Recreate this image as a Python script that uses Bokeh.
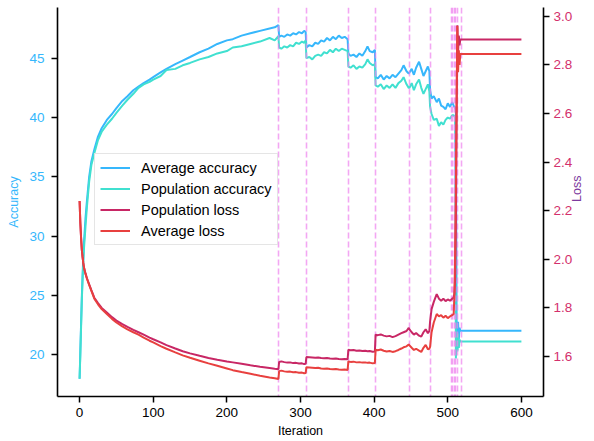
import math
from bokeh.plotting import figure
from bokeh.models import Range1d, LinearAxis, FixedTicker, Legend, LegendItem, PrintfTickFormatter
from bokeh.embed import file_html
from bokeh.resources import INLINE

# ---------------- data ----------------
iters = [0, 1, 2, 3, 4, 5, 6, 8, 10, 13, 16, 20, 25, 30, 37, 44, 50, 58, 65, 73,
         80, 87, 95, 100, 110, 118, 130, 140, 150, 163, 175, 187, 200, 208, 220, 232, 245, 258, 265, 270,
         271, 274, 278, 282, 286, 290, 294, 298, 302, 305, 307,
         308, 312, 316, 320, 324, 328, 332, 336, 340, 344, 348, 352, 356, 360, 364,
         365, 368, 372, 376, 380, 384, 388, 391, 394, 398, 401,
         402, 405, 409, 413, 417, 421, 425, 429, 433, 437, 440, 444, 447,
         448, 451, 454, 457, 461, 464, 467, 470, 473, 475,
         476, 478, 481, 485, 488, 491, 494, 497, 500, 503, 506, 508,
         509, 510, 511, 512, 513, 514, 515, 516, 517, 600]

avg_acc = [18.0, 20.3, 22.6, 24.8, 26.6, 28.2, 29.5, 31.5, 33.0, 35.0, 36.3, 37.3, 38.4, 39.1, 39.8, 40.3, 40.8, 41.4, 41.8, 42.3,
           42.6, 42.9, 43.2, 43.4, 43.8, 44.1, 44.5, 44.8, 45.1, 45.5, 45.8, 46.2, 46.5, 46.6, 46.9, 47.1, 47.3, 47.5, 47.6, 47.78,
           46.8, 46.9, 46.8, 47.0, 46.9, 47.1, 47.0, 47.2, 47.1, 47.3, 47.2,
           45.9, 46.1, 46.0, 46.3, 46.2, 46.5, 46.4, 46.7, 46.5, 46.8, 46.6, 46.9, 46.7, 46.8, 46.6,
           45.4, 45.2, 45.3, 45.1, 45.4, 45.2, 45.6, 46.0, 45.6, 45.5, 45.7,
           43.4, 43.3, 43.6, 43.2, 43.5, 43.3, 43.6, 43.4, 43.7, 44.0, 44.4, 43.9, 43.7,
           43.8, 44.1, 43.6, 44.2, 44.7, 44.1, 43.5, 43.9, 44.3, 43.9,
           42.3, 41.6, 41.8, 41.3, 41.6, 41.0, 40.9, 40.7, 41.2, 40.9, 41.3, 41.0,
           40.9, 40.8, 40.6, 22.9, 20.4, 22.8, 21.3, 22.3, 22.04, 22.04]

pop_acc = [18.0, 20.0, 22.3, 24.5, 26.3, 27.8, 29.0, 30.8, 32.5, 34.6, 36.0, 37.0, 38.1, 38.8, 39.4, 39.9, 40.4, 41.0, 41.5, 42.0,
           42.5, 42.8, 43.0, 43.2, 43.5, 44.0, 44.1, 44.4, 44.6, 44.9, 45.1, 45.4, 45.6, 45.9, 46.0, 46.2, 46.4, 46.7, 46.5, 46.85,
           45.9, 45.8, 46.0, 45.9, 46.1, 46.0, 46.3, 46.2, 46.4, 46.3, 46.5,
           45.0, 45.1, 44.9, 45.2, 45.3, 45.2, 45.5, 45.4, 45.7, 45.5, 45.8, 45.6, 45.8, 45.7, 45.6,
           44.3, 44.2, 44.4, 44.1, 44.3, 44.2, 44.5, 44.9, 44.6, 44.4, 44.5,
           42.7, 42.6, 42.8, 42.4, 42.7, 42.5, 42.8, 42.5, 42.9, 43.1, 43.4, 42.8, 42.5,
           42.5, 42.9, 42.3, 42.8, 43.2, 42.5, 42.0, 42.4, 42.8, 42.2,
           40.9, 40.3, 39.8, 39.9, 39.3, 39.6, 39.4, 39.8, 40.0, 39.9, 40.2, 40.2,
           40.1, 40.0, 19.7, 21.6, 20.3, 21.8, 20.6, 21.3, 21.14, 21.14]

pop_loss = [2.24, 2.15, 2.09, 2.04, 2.01, 1.985, 1.966, 1.942, 1.922, 1.897, 1.873, 1.842, 1.82, 1.80, 1.781, 1.762, 1.748, 1.733, 1.722, 1.71,
            1.70, 1.69, 1.678, 1.671, 1.658, 1.647, 1.633, 1.622, 1.613, 1.603, 1.594, 1.587, 1.580, 1.576, 1.570, 1.564, 1.558, 1.553, 1.550, 1.548,
            1.578, 1.580, 1.577, 1.575, 1.576, 1.573, 1.574, 1.571, 1.572, 1.569, 1.570,
            1.598, 1.597, 1.596, 1.595, 1.596, 1.594, 1.593, 1.594, 1.592, 1.591, 1.592, 1.590, 1.589, 1.590, 1.589,
            1.628, 1.626, 1.627, 1.624, 1.625, 1.623, 1.624, 1.622, 1.623, 1.620, 1.621,
            1.690, 1.688, 1.691, 1.686, 1.683, 1.685, 1.680, 1.684, 1.690, 1.696, 1.700, 1.705, 1.718,
            1.712, 1.700, 1.690, 1.697, 1.686, 1.682, 1.700, 1.712, 1.696, 1.705,
            1.745, 1.795, 1.825, 1.857, 1.838, 1.830, 1.838, 1.828, 1.835, 1.830, 1.838, 1.842,
            1.86, 1.92, 2.15, 2.60, 2.963, 2.85, 2.92, 2.88, 2.904, 2.904]

avg_loss = [2.24, 2.15, 2.09, 2.04, 2.01, 1.985, 1.965, 1.94, 1.92, 1.895, 1.87, 1.838, 1.815, 1.795, 1.775, 1.755, 1.74, 1.724, 1.712, 1.70,
            1.69, 1.678, 1.665, 1.658, 1.643, 1.632, 1.617, 1.605, 1.595, 1.583, 1.572, 1.562, 1.551, 1.544, 1.536, 1.529, 1.521, 1.514, 1.511, 1.508,
            1.540, 1.542, 1.539, 1.537, 1.538, 1.535, 1.536, 1.533, 1.534, 1.531, 1.532,
            1.556, 1.555, 1.554, 1.553, 1.554, 1.551, 1.550, 1.551, 1.549, 1.548, 1.549, 1.547, 1.546, 1.547, 1.545,
            1.580, 1.578, 1.579, 1.576, 1.577, 1.575, 1.576, 1.574, 1.575, 1.572, 1.573,
            1.628, 1.626, 1.629, 1.624, 1.621, 1.623, 1.619, 1.622, 1.627, 1.633, 1.638, 1.642, 1.650,
            1.646, 1.636, 1.627, 1.632, 1.624, 1.619, 1.636, 1.648, 1.630, 1.632,
            1.640, 1.700, 1.740, 1.775, 1.765, 1.770, 1.760, 1.768, 1.758, 1.765, 1.770, 1.775,
            1.85, 2.02, 2.30, 2.65, 2.96, 2.77, 2.86, 2.80, 2.845, 2.845]

switch_iters = [270, 308, 365, 402, 448, 476, 505, 507, 509, 511, 513, 518]

x_ticks = [0, 100, 200, 300, 400, 500, 600]
acc_ticks = [20, 25, 30, 35, 40, 45]
loss_ticks = [1.6, 1.8, 2.0, 2.2, 2.4, 2.6, 2.8, 3.0]

# ---------------- styling ----------------
C_AVG_ACC = "#36b7fc"
C_POP_ACC = "#40e0d0"
C_POP_LOSS = "#c82765"
C_AVG_LOSS = "#e8403f"
FONT = "Liberation Sans"

p = figure(width=594, height=441, output_backend="svg", toolbar_location=None,
           x_range=Range1d(-30, 630), y_range=Range1d(16.5, 49.27),
           min_border_left=57, min_border_right=49, min_border_top=7, min_border_bottom=45)
p.extra_y_ranges = {"loss": Range1d(1.4356, 3.036)}
p.outline_line_color = None
p.xgrid.visible = False
p.ygrid.visible = False

r_avg_acc = p.line(iters, avg_acc, line_color=C_AVG_ACC, line_width=2)
r_pop_acc = p.line(iters, pop_acc, line_color=C_POP_ACC, line_width=2)
p.vspan(x=switch_iters, line_color="violet", line_alpha=0.7, line_width=1.6, line_dash="6 3")
r_pop_loss = p.line(iters, pop_loss, line_color=C_POP_LOSS, line_width=2, y_range_name="loss")
r_avg_loss = p.line(iters, avg_loss, line_color=C_AVG_LOSS, line_width=2, y_range_name="loss")

right_axis = LinearAxis(y_range_name="loss")
p.add_layout(right_axis, "right")


def style_axis(ax, color, label, label_color, standoff):
    ax.axis_line_color = "black"
    ax.axis_line_width = 1.6
    ax.major_tick_line_color = "black"
    ax.major_tick_line_width = 1.5
    ax.major_tick_out = 6
    ax.major_tick_in = 0
    ax.minor_tick_line_color = None
    ax.major_label_text_font = FONT
    ax.major_label_text_font_size = "13.5px"
    ax.major_label_text_color = color
    ax.major_label_standoff = standoff
    ax.axis_label = label
    ax.axis_label_text_font = FONT
    ax.axis_label_text_font_size = "12.5px"
    ax.axis_label_text_font_style = "normal"
    ax.axis_label_text_color = label_color


xax = p.xaxis[0]
style_axis(xax, "black", "Iteration", "black", 5)
xax.ticker = FixedTicker(ticks=x_ticks)
xax.axis_label_standoff = 4

lax = p.yaxis[0]
style_axis(lax, C_AVG_ACC, "Accuracy", C_AVG_ACC, 7)
lax.ticker = FixedTicker(ticks=acc_ticks)
lax.axis_label_standoff = 5

style_axis(right_axis, "#d3306c", "Loss", "#7e3a9e", 4)
right_axis.ticker = FixedTicker(ticks=loss_ticks)
right_axis.formatter = PrintfTickFormatter(format="%.1f")
right_axis.axis_label_standoff = 2
right_axis.axis_label_orientation = math.pi / 2

legend = Legend(items=[
    LegendItem(label="Average accuracy", renderers=[r_avg_acc]),
    LegendItem(label="Population accuracy", renderers=[r_pop_acc]),
    LegendItem(label="Population loss", renderers=[r_pop_loss]),
    LegendItem(label="Average loss", renderers=[r_avg_loss]),
], location=(37, 151))
legend.label_text_font = FONT
legend.label_text_font_size = "14.5px"
legend.label_text_color = "black"
legend.glyph_width = 30
legend.glyph_height = 17
legend.label_height = 17
legend.label_standoff = 11
legend.spacing = 4
legend.padding = 5
legend.margin = 0
legend.border_line_color = "#cccccc"
legend.border_line_width = 1
legend.background_fill_color = "white"
legend.background_fill_alpha = 0.8
p.add_layout(legend)

open("out.html", "w").write(file_html(p, INLINE))
